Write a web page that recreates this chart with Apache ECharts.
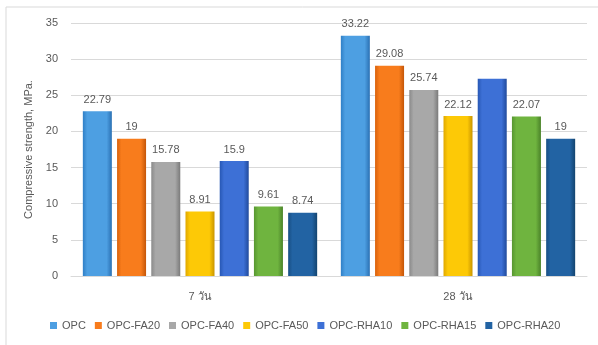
<!DOCTYPE html>
<html><head><meta charset="utf-8">
<script src="https://cdn.jsdelivr.net/npm/echarts@6/dist/echarts.min.js"></script>
<style>html,body{margin:0;padding:0;background:#fff}#c{width:598px;height:345px}</style>
</head><body><div id="c"></div>
<script>
const categories = ['7 วัน', '28 วัน'];
const seriesNames = ['OPC', 'OPC-FA20', 'OPC-FA40', 'OPC-FA50', 'OPC-RHA10', 'OPC-RHA15', 'OPC-RHA20'];
const OPC = [22.79, 33.22];
const OPC_FA20 = [19, 29.08];
const OPC_FA40 = [15.78, 25.74];
const OPC_FA50 = [8.91, 22.12];
const OPC_RHA10 = [15.9, 27.3];
const OPC_RHA15 = [9.61, 22.07];
const OPC_RHA20 = [8.74, 19];
const hiddenLabels = {'OPC-RHA10': [1]};
const yTicks = [0, 5, 10, 15, 20, 25, 30, 35];

const values = [OPC, OPC_FA20, OPC_FA40, OPC_FA50, OPC_RHA10, OPC_RHA15, OPC_RHA20];
const colors = [
  ['#2f7fc6', '#4d9fe2', '#2a70b3'],
  ['#d9620c', '#f87c1c', '#c45608'],
  ['#8a8a8a', '#a8a8a8', '#7a7a7a'],
  ['#e0a800', '#fdc906', '#c99500'],
  ['#2757b4', '#3d70d6', '#204a9c'],
  ['#579631', '#6fb43f', '#4a8229'],
  ['#184f84', '#2263a3', '#13446f']
];
function grad(c) {
  return new echarts.graphic.LinearGradient(0, 0, 1, 0, [
    {offset: 0, color: c[0]}, {offset: 0.15, color: c[1]}, {offset: 0.82, color: c[1]}, {offset: 1, color: c[2]}
  ]);
}
const font = 'Liberation Sans';
const series = seriesNames.map((n, i) => ({
  name: n,
  type: 'bar',
  barWidth: 29,
  barGap: '18%',
  itemStyle: {color: grad(colors[i])},
  label: {show: true, position: 'top', distance: 6, color: '#595959', fontSize: 11, fontFamily: font},
  data: values[i].map((v, j) => (hiddenLabels[n] && hiddenLabels[n].includes(j)) ? {value: v, label: {show: false}} : v)
}));

const chart = echarts.init(document.getElementById('c'), null, {renderer: 'canvas'});
chart.setOption({
  animation: false,
  backgroundColor: '#fff',
  color: colors.map(c => c[1]),
  graphic: [{type: 'rect', shape: {x: 6, y: 7, width: 620, height: 400}, style: {fill: 'none', stroke: '#d9d9d9', lineWidth: 1}, z: -1}],
  grid: {left: 71, right: 11, top: 23, bottom: 69},
  legend: {
    bottom: 9, left: 45, itemWidth: 7, itemHeight: 7, itemGap: 9,
    icon: 'rect',
    textStyle: {color: '#595959', fontSize: 11, fontFamily: font},
    data: seriesNames.map((n, i) => ({name: n, itemStyle: {color: colors[i][1]}}))
  },
  xAxis: {
    type: 'category', data: categories,
    axisLine: {lineStyle: {color: '#d9d9d9'}},
    axisTick: {show: false},
    axisLabel: {color: '#595959', fontSize: 11, fontFamily: font, margin: 15}
  },
  yAxis: {
    type: 'value', min: 0, max: 35, interval: 5,
    name: 'Compressive strength, MPa.', nameLocation: 'middle', nameGap: 20,
    nameTextStyle: {color: '#595959', fontSize: 11, fontFamily: font},
    axisLine: {show: false}, axisTick: {show: false},
    axisLabel: {color: '#595959', fontSize: 11, fontFamily: font, margin: 13,
      formatter: v => yTicks.includes(v) ? String(v) : ''},
    splitLine: {lineStyle: {color: '#d9d9d9'}}
  },
  series: series
});
</script></body></html>
